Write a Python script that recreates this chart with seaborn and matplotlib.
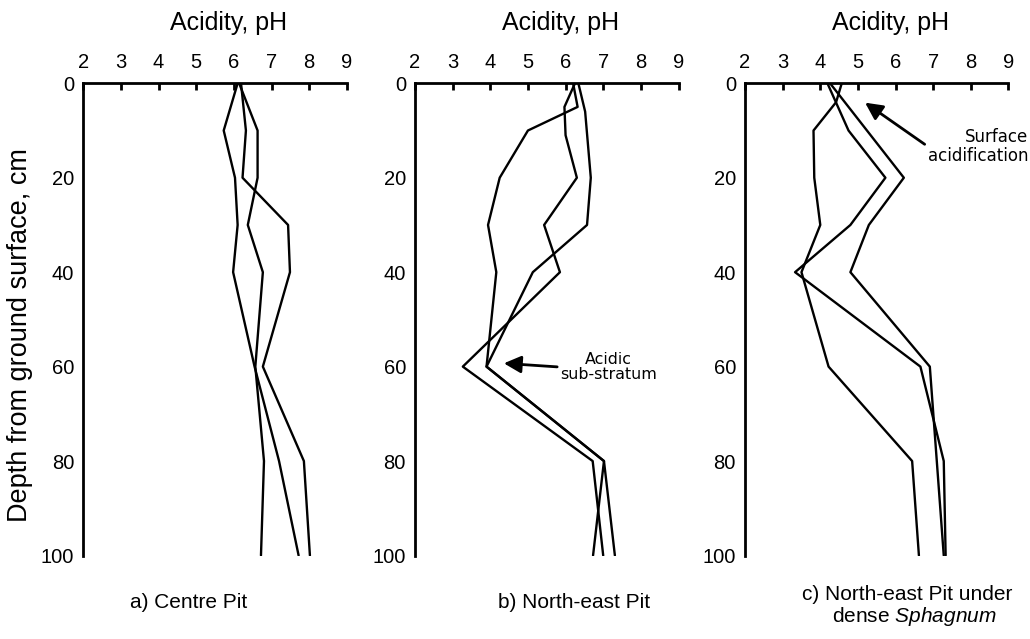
"""Soil pH depth profiles for three pits."""

import matplotlib

matplotlib.use("Agg")
import matplotlib.pyplot as plt
import pandas as pd
import seaborn as sns

# a) Centre Pit
centre_depth = [0, 10, 20, 30, 40, 60, 80, 100]
centre_1 = [6.10, 5.73, 6.03, 6.10, 5.98, 6.55, 7.20, 7.72]
centre_2 = [6.19, 6.32, 6.23, 7.44, 7.49, 6.77, 7.86, 8.02]
centre_3 = [6.14, 6.63, 6.63, 6.37, 6.77, 6.57, 6.80, 6.72]

# b) North-east Pit
ne_depth_1 = [0, 5, 10, 20, 30, 40, 60, 80, 100]
ne_1 = [6.20, 6.32, 5.00, 4.25, 3.94, 4.16, 3.90, 7.02, 6.73]
ne_depth_2 = [0, 5, 11, 20, 30, 40, 60, 80, 100]
ne_2 = [6.25, 5.97, 6.00, 6.30, 5.43, 5.85, 3.27, 6.72, 7.00]
ne_depth_3 = [0, 6, 20, 30, 40, 60, 80, 100]
ne_3 = [6.34, 6.52, 6.67, 6.57, 5.13, 3.90, 7.02, 7.31]

# c) North-east Pit under dense Sphagnum
sph_depth_1 = [0, 10, 20, 30, 40, 60, 80, 100]
sph_1 = [4.19, 4.75, 5.73, 4.80, 3.33, 6.66, 7.28, 7.33]
sph_depth_2 = [0, 20, 30, 40, 60, 100]
sph_2 = [4.26, 6.22, 5.29, 4.80, 6.91, 7.28]
sph_depth_3 = [0, 4, 10, 20, 30, 40, 60, 80, 100]
sph_3 = [4.57, 4.42, 3.82, 3.84, 4.00, 3.50, 4.22, 6.44, 6.62]

ph_ticks = [2, 3, 4, 5, 6, 7, 8, 9]
depth_ticks = [0, 20, 40, 60, 80, 100]


def profile_frame(profiles):
    rows = []
    for i, (depths, values) in enumerate(profiles):
        for d, v in zip(depths, values):
            rows.append({"profile": i, "depth": d, "pH": v})
    return pd.DataFrame(rows)


panels = [
    profile_frame([(centre_depth, centre_1), (centre_depth, centre_2), (centre_depth, centre_3)]),
    profile_frame([(ne_depth_1, ne_1), (ne_depth_2, ne_2), (ne_depth_3, ne_3)]),
    profile_frame([(sph_depth_1, sph_1), (sph_depth_2, sph_2), (sph_depth_3, sph_3)]),
]

sns.set_style("white")
plt.rcParams["font.family"] = ["Liberation Sans", "DejaVu Sans"]
plt.rcParams["mathtext.fontset"] = "custom"
plt.rcParams["mathtext.rm"] = "Liberation Sans"
plt.rcParams["mathtext.it"] = "Liberation Sans:italic"
for key in ["text.color", "axes.labelcolor", "xtick.color", "ytick.color", "axes.edgecolor"]:
    plt.rcParams[key] = "black"

W, H = 1030, 639
fig = plt.figure(figsize=(W / 100, H / 100), dpi=100)

lefts = [83.3, 415.0, 745.0]
top_px, bottom_px, width_px = 83.3, 555.5, 263.5
height_px = bottom_px - top_px

axes = []
for left, df in zip(lefts, panels):
    ax = fig.add_axes([left / W, 1 - bottom_px / H, width_px / W, height_px / H])
    sns.lineplot(
        data=df, x="pH", y="depth", units="profile", estimator=None, sort=False,
        color="black", linewidth=1.7, ax=ax,
    )
    ax.set_xlim(2, 9)
    ax.set_ylim(100, 0)
    ax.set_xticks(ph_ticks)
    ax.set_yticks(depth_ticks)
    ax.xaxis.tick_top()
    ax.xaxis.set_label_position("top")
    for side in ["right", "bottom"]:
        ax.spines[side].set_visible(False)
    for side in ["left", "top"]:
        ax.spines[side].set_linewidth(2.0)
        ax.spines[side].set_color("black")
    ax.tick_params(axis="x", direction="in", length=5, width=2.0, pad=8, labelsize=14.5, colors="black")
    ax.tick_params(axis="y", direction="in", length=6, width=2.0, pad=6.5, labelsize=14.5, colors="black")
    ax.set_xlabel("Acidity, pH", fontsize=18, color="black")
    ax.xaxis.label.set_verticalalignment("bottom")
    ax.xaxis.set_label_coords(0.553, 1 + 48 / height_px)
    ax.set_ylabel("")
    ax.grid(False)
    axes.append(ax)

axes[0].set_ylabel("Depth from ground surface, cm", fontsize=19.5, color="black")
axes[0].yaxis.set_label_coords(-(83.3 - 20) / width_px, (bottom_px - 335) / height_px)
axes[0].yaxis.label.set_verticalalignment("center")

arrow = dict(arrowstyle="-|>", mutation_scale=26, lw=2.0, color="black", shrinkA=0, shrinkB=0)
axes[1].annotate(
    "Acidic\nsub-stratum", xy=(4.36, 59.3), xytext=(7.15, 60.1),
    ha="center", va="center", fontsize=11.4, family="DejaVu Sans", linespacing=0.95,
    color="black", arrowprops=dict(arrow, relpos=(0.0, 0.5)),
)
axes[2].annotate(
    "Surface\nacidification", xy=(5.19, 4.1), xytext=(9.53, 13.4),
    ha="right", va="center", fontsize=12, family="DejaVu Sans", linespacing=1.05,
    multialignment="right", annotation_clip=False, color="black",
    arrowprops=dict(arrow, relpos=(0.0, 0.5)),
)

fig.text(189 / W, 1 - 603 / H, "a) Centre Pit", ha="center", va="center", fontsize=15)
fig.text(574 / W, 1 - 603 / H, "b) North-east Pit", ha="center", va="center", fontsize=15)
fig.text(907 / W, 1 - 594 / H, "c) North-east Pit under", ha="center", va="center", fontsize=15)
fig.text(914 / W, 1 - 617 / H, r"dense $\mathit{Sphagnum}$", ha="center", va="center", fontsize=15)

fig.savefig("out.png", dpi=100)
